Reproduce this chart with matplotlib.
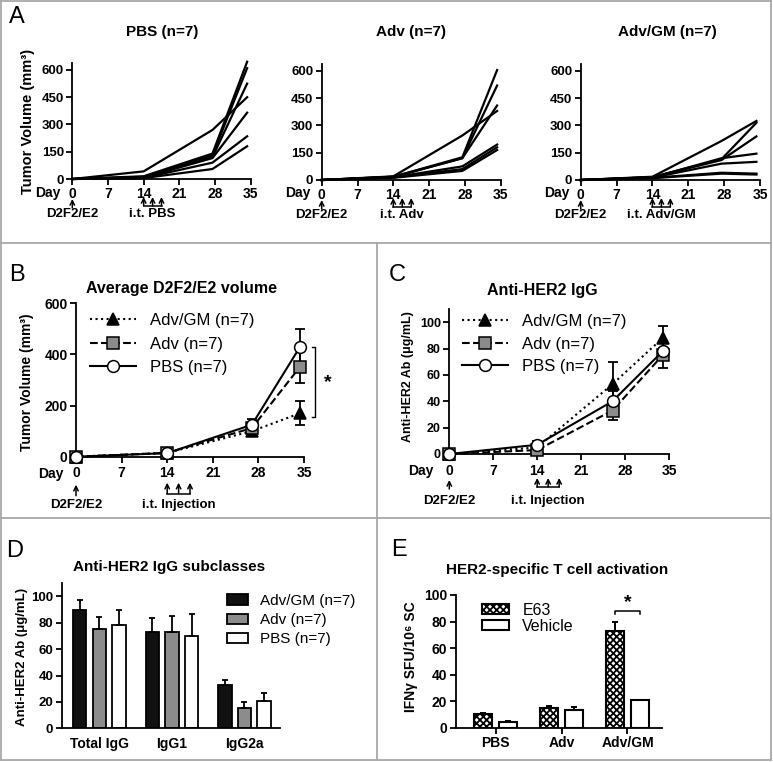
import matplotlib
matplotlib.use('Agg')
import matplotlib.pyplot as plt
import matplotlib.transforms as mtransforms
from matplotlib.lines import Line2D

plt.rcParams['font.family'] = ['Liberation Sans', 'DejaVu Sans']
plt.rcParams['font.weight'] = 'bold'
plt.rcParams['hatch.linewidth'] = 1.3

# ---------------- data ----------------
# A: individual tumour growth (mm3)
days_a = [0, 14, 27.5, 34.3]
pbs_mice = [[0, 42, 270, 450], [0, 15, 140, 645], [0, 12, 130, 610], [0, 10, 120, 525],
            [0, 8, 115, 365], [0, 6, 90, 235], [0, 5, 55, 180]]
adv_mice = [[0, 20, 245, 380], [0, 18, 125, 605], [0, 18, 120, 520], [0, 16, 120, 410],
            [0, 15, 75, 195], [0, 14, 60, 180], [0, 12, 50, 165]]
advgm_mice = [[0, 18, 215, 325], [0, 16, 115, 315], [0, 15, 110, 240], [0, 14, 120, 145],
              [0, 13, 90, 100], [0, 12, 40, 35], [0, 10, 35, 30]]
a_titles = ['PBS (n=7)', 'Adv (n=7)', 'Adv/GM (n=7)']
a_inject = ['i.t. PBS', 'i.t. Adv', 'i.t. Adv/GM']

# B: average volume
days_b = [0, 14, 27, 34.4]
b_advgm = [0, 15, 100, 170]
b_advgm_err = [0, 3, 12, 47]
b_adv = [0, 15, 112, 352]
b_adv_err = [0, 3, 15, 65]
b_pbs = [0, 14, 125, 430]
b_pbs_err = [0, 3, 22, 68]

# C: anti-HER2 IgG (ug/mL)
days_c = [0, 14, 26, 34]
c_advgm = [0, 5, 53, 88]
c_advgm_err = [0, 2, 17, 9]
c_adv = [0, 3, 33, 75]
c_adv_err = [0, 2, 7, 10]
c_pbs = [0, 7, 40, 78]
c_pbs_err = [0, 3, 8, 6]

inject_days = [14, 15.75, 17.5]
group_labels = ['Adv/GM (n=7)', 'Adv (n=7)', 'PBS (n=7)']

# D: IgG subclasses
d_classes = ['Total IgG', 'IgG1', 'IgG2a']
d_advgm = [90, 73, 33]
d_advgm_err = [7.5, 10.5, 4]
d_adv = [75, 73, 15.5]
d_adv_err = [9.5, 12.5, 4.5]
d_pbs = [78, 70, 21]
d_pbs_err = [12, 17, 6]

# E: ELISPOT
e_groups = ['PBS', 'Adv', 'Adv/GM']
e_e63 = [10, 15, 73]
e_e63_err = [1.3, 1.3, 7]
e_vehicle = [4, 13, 20.5]
e_vehicle_err = [1.3, 2.5, 0]
e_labels = ['E63', 'Vehicle']

# ---------------- figure ----------------
W, H = 773, 762
fig = plt.figure(figsize=(W / 100, H / 100), dpi=100)


def box(x0, y_top, x1, y_bot):
    return [x0 / W, 1 - y_bot / H, (x1 - x0) / W, (y_bot - y_top) / H]


def ftext(x, y, s, **kw):
    fig.text(x / W, 1 - y / H, s, ha='center', va='center', **kw)


def style(ax, fs):
    for s in ['top', 'right']:
        ax.spines[s].set_visible(False)
    for s in ['left', 'bottom']:
        ax.spines[s].set_linewidth(1.3)
    ax.tick_params(width=1.3, length=4, labelsize=fs, pad=2)


def below(ax, dy, dx=0):
    t = mtransforms.blended_transform_factory(ax.transData, ax.transAxes)
    return t + mtransforms.ScaledTranslation(dx / 100, -dy / 100, fig.dpi_scale_trans)


def timeline(ax, label, lab_dy, a_top, a_bot, txt_dy, day_dx, fs):
    ax.text(0, 0, 'Day', transform=below(ax, lab_dy, -day_dx), ha='center', va='center', fontsize=fs)
    ap = dict(arrowstyle='->', lw=1.1, shrinkA=0, shrinkB=0, mutation_scale=8)
    ax.annotate('', xy=(0, 0), xycoords=below(ax, a_top + 2), xytext=(0, 0),
                textcoords=below(ax, a_bot + 2), arrowprops=ap, annotation_clip=False)
    for d in inject_days:
        ax.annotate('', xy=(d, 0), xycoords=below(ax, a_top), xytext=(d, 0),
                    textcoords=below(ax, a_bot), arrowprops=ap, annotation_clip=False)
    ax.plot([inject_days[0], inject_days[-1]], [0, 0], color='black', lw=1.1,
            transform=below(ax, a_bot), clip_on=False)
    ax.text(0, 0, 'D2F2/E2', transform=below(ax, txt_dy), ha='center', va='center', fontsize=9.5)
    ax.text(sum(inject_days) / 3, 0, label, transform=below(ax, txt_dy), ha='center',
            va='center', fontsize=9.5)


# panel borders
border = dict(color='#a8a8a8', lw=1.3)
for xs, ys in [([1, 771], [1, 1]), ([1, 771], [760, 760]), ([1, 1], [1, 760]), ([771, 771], [1, 760]),
               ([1, 771], [243, 243]), ([1, 771], [518, 518]), ([377, 377], [243, 760])]:
    fig.add_artist(Line2D([x / W for x in xs], [1 - y / H for y in ys], **border))

# panel letters
for letter, (x, y) in zip('ABCDE', [(17, 17), (17, 275), (397, 275), (15, 551), (399, 550)]):
    ftext(x, y, letter, fontsize=17, fontweight='normal')

# ---- A ----
a_boxes = [(72.3, 250.7, 179), (321.7, 500.7, 180), (580.7, 760, 180)]
a_centers = [162, 411, 667]
for i, mice in enumerate([pbs_mice, adv_mice, advgm_mice]):
    x0, x1, yb = a_boxes[i]
    ax = fig.add_axes(box(x0, yb - 116.3, x1, yb))
    for m in mice:
        ax.plot(days_a, m, color='black', lw=1.6, clip_on=False)
    ax.set_xlim(0, 35)
    ax.set_ylim(0, 640)
    ax.set_xticks(range(0, 36, 7))
    ax.set_yticks([0, 150, 300, 450, 600])
    style(ax, 9.5)
    ax.tick_params(axis='x', labelsize=10)
    timeline(ax, a_inject[i], 13.5, 18, 27, 35, 24, 10)
    ftext(a_centers[i], 32, a_titles[i], fontsize=11)
ftext(28, 121, 'Tumor Volume (mm³)', fontsize=10.5, rotation=90)


# ---- B and C ----
def avg_panel(rect, days, series, errs, ylim, yticks, fs):
    ax = fig.add_axes(rect)
    styles = [dict(ls=':', marker='^', mfc='black', ms=9),
              dict(ls='--', marker='s', mfc='#8c8c8c', ms=8),
              dict(ls='-', marker='o', mfc='white', ms=8.5)]
    handles = []
    for vals, err, st, lab in zip(series, errs, styles, group_labels):
        ax.errorbar(days, vals, yerr=err, fmt='none', ecolor='black', elinewidth=1.3,
                    capsize=3.5, capthick=1.3, clip_on=False)
        ln, = ax.plot(days, vals, color='black', lw=1.5, mec='black', mew=1.1,
                      label=lab, clip_on=False, zorder=3, **st)
        handles.append(ln)
    ax.set_xlim(0, 35)
    ax.set_ylim(*ylim)
    ax.set_xticks(range(0, 36, 7))
    ax.set_yticks(yticks)
    style(ax, fs)
    ax.tick_params(axis='x', labelsize=10, pad=3)
    return ax, handles


axb, hb = avg_panel(box(76, 303.3, 304, 456.7), days_b, [b_advgm, b_adv, b_pbs],
                    [b_advgm_err, b_adv_err, b_pbs_err], (0, 600), [0, 200, 400, 600], 10)
axb.legend(handles=hb, loc='upper left', bbox_to_anchor=(0.06, 0.935), frameon=False,
           prop={'weight': 'normal', 'size': 12}, handlelength=2.8, handletextpad=0.8,
           labelspacing=0.5, borderpad=0, borderaxespad=0)
timeline(axb, 'i.t. Injection', 17.6, 26, 37, 48, 25, 10)
ftext(181, 289, 'Average D2F2/E2 volume', fontsize=11.5)
ftext(27, 382, 'Tumor Volume (mm³)', fontsize=10, rotation=90)
# significance bracket
xb = 36.7
axb.plot([xb - 0.5, xb, xb, xb - 0.5], [b_pbs[-1], b_pbs[-1], b_advgm[-1] - 15, b_advgm[-1] - 15],
         color='black', lw=1, clip_on=False)
axb.text(xb + 2, (b_pbs[-1] + b_advgm[-1]) / 2 - 10, '*', fontsize=14, ha='center', va='center')

axc, hc = avg_panel(box(449.3, 309, 669, 454), days_c, [c_advgm, c_adv, c_pbs],
                    [c_advgm_err, c_adv_err, c_pbs_err], (0, 110), range(0, 101, 20), 9)
axc.legend(handles=hc, loc='upper left', bbox_to_anchor=(0.06, 0.965), frameon=False,
           prop={'weight': 'normal', 'size': 12}, handlelength=2.75, handletextpad=0.8,
           labelspacing=0.45, borderpad=0, borderaxespad=0)
timeline(axc, 'i.t. Injection', 16.5, 24, 33, 47, 28, 10)
ftext(542, 290, 'Anti-HER2 IgG', fontsize=11.5)
ftext(407.5, 377, 'Anti-HER2 Ab (μg/mL)', fontsize=9, rotation=90)

# ---- D ----
axd = fig.add_axes(box(61.7, 583.3, 280, 728.3))
xd = range(len(d_classes))
w = 0.183
off = 0.27
for k, (vals, err, col, lab) in enumerate(zip([d_advgm, d_adv, d_pbs], [d_advgm_err, d_adv_err, d_pbs_err],
                                               ['#111111', '#8c8c8c', 'white'], group_labels)):
    pos = [x + (k - 1) * off for x in xd]
    axd.bar(pos, vals, width=w, color=col, edgecolor='black', lw=1.3, label=lab,
            yerr=[[0] * 3, err], error_kw=dict(elinewidth=1.3, capsize=2.5, capthick=1.3))
axd.set_xlim(-0.52, 2.49)
axd.set_ylim(0, 110)
axd.set_yticks(range(0, 101, 20))
axd.set_xticks(list(xd))
axd.set_xticklabels(d_classes)
style(axd, 9.5)
axd.tick_params(axis='x', length=0, labelsize=10, pad=6)
axd.legend(loc='upper left', bbox_to_anchor=(0.755, 0.925), frameon=False,
           prop={'weight': 'normal', 'size': 11}, handlelength=1.42, handleheight=0.7,
           handletextpad=0.76, labelspacing=0.33, borderpad=0, borderaxespad=0)
ftext(169, 567, 'Anti-HER2 IgG subclasses', fontsize=11)
ftext(22.5, 657, 'Anti-HER2 Ab (μg/mL)', fontsize=9.5, rotation=90)

# ---- E ----
axe = fig.add_axes(box(455.7, 595, 661.7, 727.7))
xe = range(len(e_groups))
we = 0.27
offe = 0.19
axe.bar([x - offe for x in xe], e_e63, width=we, color='white', edgecolor='black', hatch='xxxxx',
        lw=1.5, label=e_labels[0], yerr=[[0] * 3, e_e63_err],
        error_kw=dict(elinewidth=1.4, capsize=2.5, capthick=1.4))
axe.bar([x + offe for x in xe], e_vehicle, width=we, color='white', edgecolor='black',
        lw=1.5, label=e_labels[1], yerr=[[0] * 3, e_vehicle_err],
        error_kw=dict(elinewidth=1.4, capsize=2.5, capthick=1.4))
axe.set_xlim(-0.61, 2.52)
axe.set_ylim(0, 100)
axe.set_yticks(range(0, 101, 20))
axe.set_xticks(list(xe))
axe.set_xticklabels(e_groups)
style(axe, 10)
axe.tick_params(axis='x', labelsize=10)
axe.legend(loc='upper left', bbox_to_anchor=(0.126, 0.94), frameon=False,
           prop={'weight': 'normal', 'size': 11.5}, handlelength=1.7, handleheight=0.6,
           handletextpad=0.85, labelspacing=0.05, borderpad=0, borderaxespad=0)
# significance
axe.plot([2 - offe, 2 - offe, 2 + offe, 2 + offe], [85.7, 88.2, 88.2, 85.7], color='black', lw=1.1,
         clip_on=False)
axe.text(2, 94, '*', fontsize=14, ha='center', va='center')
ftext(557, 570, 'HER2-specific T cell activation', fontsize=11)
ftext(411, 657, 'IFNγ SFU/10⁶ SC', fontsize=10, rotation=90)

fig.savefig('out.png', dpi=100)
